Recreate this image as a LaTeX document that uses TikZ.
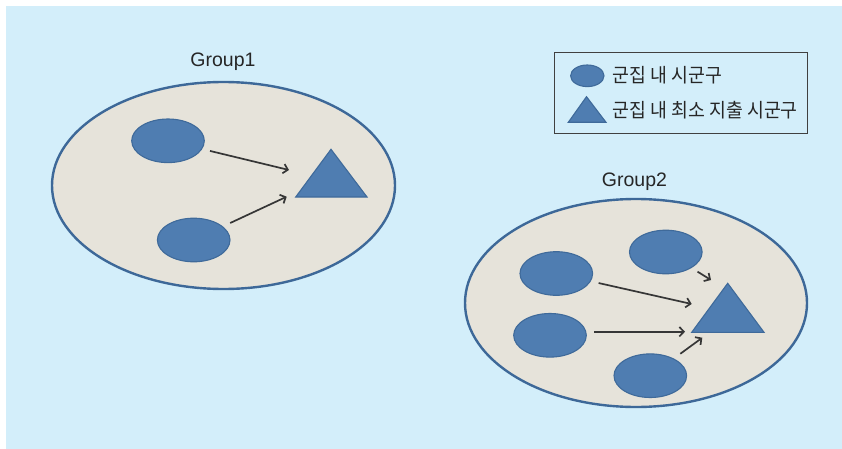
\documentclass[tikz,border=0pt]{standalone}
\usepackage{fontspec}
\setmainfont{Liberation Sans}
\newfontfamily\kr[FakeStretch=0.94]{Noto Sans CJK KR}
\newfontfamily\grp{Liberation Sans}
\usetikzlibrary{arrows.meta,shapes.geometric}
\definecolor{bgblue}{HTML}{D3EEFA}
\definecolor{beige}{HTML}{E6E3DA}
\definecolor{ringblue}{HTML}{3D6898}
\definecolor{dotblue}{HTML}{4F7DB1}
\definecolor{dotedge}{HTML}{3F6A9A}
\definecolor{arrgray}{HTML}{363636}
\definecolor{boxgray}{HTML}{404040}
\tikzset{
  group/.style={ellipse, draw=ringblue, fill=beige, line width=2.4pt, inner sep=0pt},
  member/.style={ellipse, draw=dotedge, fill=dotblue, line width=1.1pt, inner sep=0pt,
     minimum width=72.6pt, minimum height=43.6pt},
  tri/.style={draw=dotedge, fill=dotblue, line width=1.1pt, line join=miter},
  arr/.style={draw=arrgray, line width=1.7pt, -{Straight Barb[length=4.5pt,width=9.5pt,line width=1.7pt]}, shorten <=8pt},
  glabel/.style={font=\grp\fontsize{19.5}{22}\selectfont, text=black!85, inner sep=0pt, anchor=base},
  klabel/.style={font=\kr\fontsize{19.5}{22}\selectfont, text=black!85, inner sep=0pt, anchor=west},
}
\begin{document}
\begin{tikzpicture}[x=1pt,y=-1pt]
\useasboundingbox (0,0) rectangle (842,449);
\fill[bgblue] (6,6) rectangle (842,449);

% Group 1
\node[glabel] (g1lab) at (223,66.5) {Group1};
\node[group, minimum width=343pt, minimum height=207pt] (g1) at (223.5,185.5) {};
\node[member] (e1a) at (168,140.8) {};
\node[member] (e1b) at (193.7,240) {};
\draw[tri] (295.7,197) -- (331,149.3) -- (367,197) -- cycle;
\coordinate (a1ae) at (289,170);
\coordinate (a1be) at (286.7,196.7);
\draw[arr] (e1a) -- (a1ae);
\draw[arr] (e1b) -- (a1be);

% Legend
\node[draw=boxgray, line width=1pt, fill=bgblue, minimum width=253.7pt, minimum height=81pt, inner sep=0pt] (legend) at (680.85,92.8) {};
\node[ellipse, draw=dotedge, fill=dotblue, line width=1.1pt, inner sep=0pt, minimum width=33.4pt, minimum height=21.6pt] (lege) at (587.3,75.8) {};
\draw[tri] (568.3,122.3) -- (586.5,96.7) -- (606,122.3) -- cycle;
\node[klabel] (legt1) at (612.5,75.3) {군집 내 시군구};
\node[klabel] (legt2) at (612.5,110.5) {군집 내 최소 지출 시군구};

% Group 2
\node[glabel] (g2lab) at (634.5,186) {Group2};
\node[group, minimum width=342pt, minimum height=208pt] (g2) at (636,303) {};
\node[member] (e2a) at (665.8,252) {};
\node[member] (e2b) at (556.3,273.5) {};
\node[member] (e2c) at (550,335.3) {};
\node[member] (e2d) at (650.3,375.7) {};
\draw[tri] (691.7,332.3) -- (727.7,283.3) -- (764,332.3) -- cycle;
\coordinate (a2ae) at (711,280);
\coordinate (a2be) at (691.7,304);
\coordinate (a2ce) at (685,331.7);
\coordinate (a2de) at (702.3,337.7);
\draw[arr, shorten <=7pt] (e2a) -- (a2ae);
\draw[arr] (e2b) -- (a2be);
\draw[arr, shorten <=0pt] ([shift={(7.3,-3.6)}]e2c.east) -- (a2ce);
\draw[arr] (e2d) -- (a2de);
\end{tikzpicture}
\end{document}
